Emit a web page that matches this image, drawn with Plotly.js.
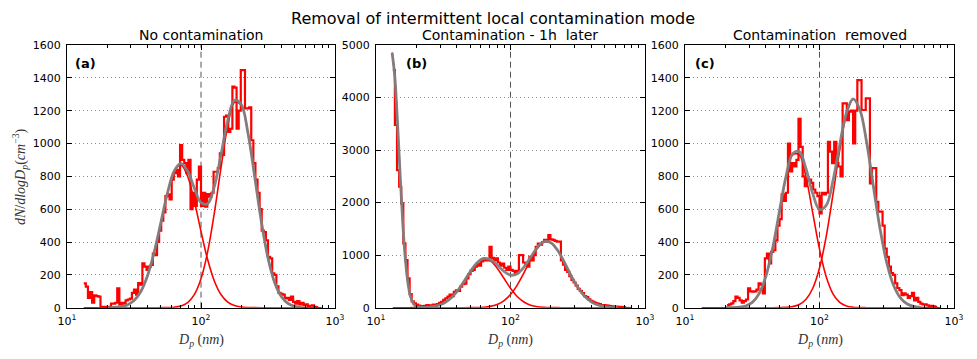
<!DOCTYPE html>
<html><head><meta charset="utf-8">
<script src="https://cdn.plot.ly/plotly-3.0.1.min.js"></script>
<style>html,body{margin:0;padding:0;background:#fff}#chart{width:977px;height:359px}</style>
</head><body><div id="chart"></div>
<script>
const TITLE = "Removal of intermittent local contamination mode";
const PANEL_TITLES = ["No contamination", "Contamination - 1h\u00a0 later", "Contamination\u00a0 removed"];
const PANEL_LABELS = ["(a)", "(b)", "(c)"];
const Y_TITLE = "<i>dN</i>/<i>dlogD</i><sub><i>p</i></sub>(<i>cm</i><sup>\u22123</sup>)";
const X_TITLE = "<i>D</i><sub><i>p</i></sub> (<i>nm</i>)";
const X_TICK_VALUES = [10, 100, 1000];
const X_TICK_TEXT = ["10<sup>1</sup>", "10<sup>2</sup>", "10<sup>3</sup>"];
const X_MINOR_TICKS = [20,30,40,50,60,70,80,90,200,300,400,500,600,700,800,900];
const Y_MAX = [1600, 5000, 1600];
const Y_DTICK = [200, 1000, 200];
const DIVIDER_NM = 100;

// size-bin left edges (nm), last value is the right edge of the last bin
const BIN_EDGES_NM = [13.34,13.82,14.33,14.86,15.40,15.96,16.55,17.15,17.78,18.43,
19.11,19.81,20.54,21.29,22.07,22.88,23.71,24.58,25.48,26.42,
27.38,28.39,29.43,30.51,31.62,32.78,33.98,35.23,36.52,37.86,
39.24,40.68,42.17,43.71,45.32,46.98,48.70,50.48,52.33,54.25,
56.23,58.29,60.43,62.64,64.94,67.32,69.78,72.34,74.99,77.74,
80.58,83.54,86.60,89.77,93.06,96.47,100.0,103.7,107.5,111.4,
115.5,119.7,124.1,128.6,133.4,138.2,143.3,148.6,154.0,159.6,
165.5,171.5,177.8,184.3,191.1,198.1,205.4,212.9,220.7,228.8,
237.1,245.8,254.8,264.2,273.8,283.9,294.3,305.1,316.2,327.8,
339.8,352.3,365.2,378.6,392.4,406.8,421.7,437.1,453.2,469.8,
487.0,504.8,523.3,542.5,562.3,582.9,604.3,626.4,649.4,673.2,
697.8,723.4,749.9,777.4];

const MEASURED_A = [148,128,60,95,30,75,70,68,5,5,
5,5,5,25,25,30,118,20,30,25,
45,50,55,90,110,80,150,140,270,250,
230,250,260,330,320,400,470,530,580,680,
690,660,780,820,840,800,990,900,880,820,
900,600,700,620,780,860,620,700,615,692,
676,700,828,828,850,940,930,1163,1170,1070,
1090,1346,1340,1090,1200,1447,1447,1214,1214,1220,
1020,880,780,700,600,470,460,410,310,300,
209,200,130,90,85,80,57,60,47,67,
35,25,40,20,30,15,20,10,12,15,
5,3,null];

const MEASURED_B = [4524,3477,2620,2303,1986,1224,907,558,260,120,
82,60,40,30,25,35,50,40,45,60,
50,70,90,110,150,180,210,250,220,300,
330,320,400,450,460,560,640,700,720,780,
840,800,880,900,920,900,1160,950,900,940,
860,800,840,760,720,780,720,700,650,700,
1000,1000,860,820,780,970,900,1000,1160,1220,
1200,1250,1290,1260,1383,1300,1290,1270,1256,1260,
900,820,720,680,600,530,480,420,360,320,
280,220,200,160,130,110,90,80,70,50,
50,45,40,30,25,20,20,15,15,10,
8,null,null];

const MEASURED_C = [null,null,null,null,null,null,null,null,null,null,
null,null,16,20,26,40,67,60,45,30,
40,50,118,100,97,100,110,148,140,87,
300,330,270,340,350,410,500,540,690,650,
700,1000,830,880,860,900,1150,980,800,740,
780,780,760,720,700,680,575,700,690,700,
1010,950,880,1010,880,860,800,1244,1244,1143,
1194,1200,1000,1200,1386,1386,1204,1204,1275,1275,
757,850,850,645,585,585,500,360,310,250,
210,200,148,120,107,77,87,80,60,70,
90,45,60,35,25,20,20,15,10,12,
8,5,null];

// fitted-mode curves
const CURVE_NM = [13.34,14.13,15.85,17.78,19.95,22.39,25.12,28.18,31.62,35.48,
39.81,44.67,50.12,56.23,63.10,70.79,79.43,89.13,100,112.2,
125.9,141.3,158.5,177.8,199.5,223.9,251.2,281.8,316.2,354.8,
398.1,446.7,501.2,562.3,631.0,707.9,794.3];

const MODE1_A = [0,0,0,0.1,0.5,1.8,5.8,16.9,43.3,97.4,192.9,336.4,516.3,697.8,829.9,868.9,800.8,649.6,464.0,291.6,161.4,78.6,33.7,12.7,4.2,1.2,0.3,0,0,0,0,0,0,0,0,0,0];
const MODE2_A = [0,0,0,0,0,0,0,0,0,0,0,0,0.2,0.9,3.2,10.7,31.3,79.4,176.2,341.9,579.1,857.2,1108,1251,1235,1064,801.1,526.9,302.7,151.9,66.6,25.5,8.5,2.5,0.6,0.1,0];
const TOTAL_A = [null,null,null,null,0.5,1.8,5.8,16.9,43.3,97.4,192.9,336.4,516.5,698.7,833.1,879.6,832.1,729.0,640.2,633.5,740.5,935.8,1141.7,1263.7,1239.2,1065.2,801.4,526.9,302.7,151.9,66.6,25.5,8.5,2.5,null,null,null];

const MODE0_B_NM = [13.18,13.80,14.45,15.14,15.85,16.60,17.38,18.20,19.05,19.95,20.89,21.88,22.91];
const MODE0_B = [4853,4398,3525,2496,1564,866,424,184,70,24,7,2,0.4];
const MODE1_B = [0,0,0,0.3,1.2,4.2,12.8,34.1,80.1,165.8,302.0,484.0,683.0,848.4,927.6,892.8,756.4,564.1,370.3,214.0,108.8,48.7,19.2,6.7,2.0,0.5,0.1,0,0,0,0,0,0,0,0,0,0];
const MODE2_B = [0,0,0,0,0,0,0,0,0,0,0,0,0.9,3.1,9.3,25.0,60.2,129.4,249.4,429.7,662.9,914.9,1130,1249,1235,1093,865.5,613.4,388.8,220.6,112.0,50.9,20.7,7.5,2.4,0.7,0.2];
const TOTAL_B_NM = [13.18,13.80,14.45,15.14,15.85,16.60,17.38,18.20,19.05,19.95,20.89,21.88,22.91,25.12,28.18,31.62,35.48,39.81,44.67,50.12,56.23,63.10,70.79,79.43,89.13,100,112.2,125.9,141.3,158.5,177.8,199.5,223.9,251.2,281.8,316.2,354.8,398.1,446.7,501.2,562.3,631.0];
const TOTAL_B = [4853,4398,3525,2496,1564,866,424,184,71,25,9,5,5,13,34,80,166,302,484,684,852,937,918,817,694,620,644,772,964,1149,1256,1237,1094,866,613,389,221,112,51,21,7.5,2.4];

const MODE1_C = [0,0,0,0,0.1,0.7,2.9,10.6,32.3,84.5,188.0,356.5,576.2,793.5,931.2,931.2,793.5,576.2,356.5,188.0,84.5,32.3,10.6,2.9,0.7,0.1,0,0,0,0,0,0,0,0,0,0,0];
const MODE2_C = [0,0,0,0,0,0,0,0,0,0,0,0,0.5,1.9,6.5,19.4,51.1,118.4,241.7,434.7,688.1,958.6,1175.6,1269.2,1206,1008.9,742.7,481.5,274.7,137.9,61.0,23.7,8.1,2.5,0.7,0.1,0];
const TOTAL_C = [null,null,null,null,0.1,0.7,2.9,10.6,32.3,84.5,188.0,356.5,576.7,795.4,937.7,950.6,844.6,694.6,598.2,622.7,772.6,990.9,1186.2,1272.1,1206.7,1009.0,742.7,481.5,274.7,137.9,61.0,23.7,8.1,2.5,null,null,null];

// ---- build ----
function stepSeries(values) {
  const xs = [], ys = [];
  for (let i = 0; i < values.length; i++) {
    const v = values[i];
    if (v === null) continue;
    xs.push(BIN_EDGES_NM[i]); ys.push(v);
    const next = values[i + 1];
    if (next === null || next === undefined) {
      xs.push(BIN_EDGES_NM[i + 1]); ys.push(v);
      xs.push(null); ys.push(null);
    }
  }
  return {x: xs, y: ys};
}

const RED = '#ff0000', GREY = '#808080';
const panels = [
  {meas: MEASURED_A, modes: [[CURVE_NM, MODE1_A], [CURVE_NM, MODE2_A]], total: [CURVE_NM, TOTAL_A]},
  {meas: MEASURED_B, modes: [[MODE0_B_NM, MODE0_B], [CURVE_NM, MODE1_B], [CURVE_NM, MODE2_B]], total: [TOTAL_B_NM, TOTAL_B]},
  {meas: MEASURED_C, modes: [[CURVE_NM, MODE1_C], [CURVE_NM, MODE2_C]], total: [CURVE_NM, TOTAL_C]}
];

const W = 977, H = 359;
const XDOM = [[67, 335], [376, 645], [685, 954]];
const YTOP = 45, YBOT = 307.7;
const LABEL_X = [85, 416, 705];

const traces = [];
const layout = {
  width: W, height: H, showlegend: false,
  margin: {l: 0, r: 0, t: 0, b: 0},
  paper_bgcolor: '#fff', plot_bgcolor: '#fff',
  font: {family: 'DejaVu Sans', color: '#000'},
  annotations: [], shapes: []
};

panels.forEach((p, k) => {
  const n = k === 0 ? '' : String(k + 1);
  const xa = 'x' + n, ya = 'y' + n;
  const st = stepSeries(p.meas);
  traces.push({x: st.x, y: st.y, xaxis: xa, yaxis: ya, type: 'scatter', mode: 'lines',
    line: {color: RED, width: 2.2, shape: 'hv'}, hoverinfo: 'skip'});
  p.modes.forEach(m => traces.push({x: m[0], y: m[1], xaxis: xa, yaxis: ya, type: 'scatter', mode: 'lines',
    line: {color: RED, width: 1.6, shape: 'spline', smoothing: 1}, hoverinfo: 'skip'}));
  traces.push({x: p.total[0], y: p.total[1], xaxis: xa, yaxis: ya, type: 'scatter', mode: 'lines',
    line: {color: GREY, width: 2.8, shape: 'spline', smoothing: 1}, opacity: 0.95, hoverinfo: 'skip'});

  const cx = (XDOM[k][0] + XDOM[k][1]) / 2;
  layout['xaxis' + n] = {
    type: 'log', range: [1, 3], domain: [XDOM[k][0] / W, XDOM[k][1] / W], anchor: ya,
    tickmode: 'array', tickvals: X_TICK_VALUES, ticktext: X_TICK_TEXT,
    ticks: 'inside', ticklen: 5, tickwidth: 1, tickcolor: '#000',
    showline: true, linecolor: '#000', linewidth: 1, mirror: 'allticks',
    showgrid: false, zeroline: false, ticklabelstandoff: 3,
    tickfont: {family: 'DejaVu Sans', size: 11, color: '#000'},
    minor: {tickmode: 'array', tickvals: X_MINOR_TICKS, ticks: 'inside', ticklen: 3, tickcolor: '#000', showgrid: false}
  };
  layout['yaxis' + n] = {
    range: [0, Y_MAX[k]], dtick: Y_DTICK[k], tick0: 0, domain: [1 - YBOT / H, 1 - YTOP / H], anchor: xa,
    ticks: 'inside', ticklen: 5, tickwidth: 1, tickcolor: '#000',
    showline: true, linecolor: '#000', linewidth: 1, mirror: 'allticks',
    showgrid: true, gridcolor: '#8c8c8c', griddash: '1px,3px', gridwidth: 1, zeroline: false,
    ticklabelstandoff: 3,
    tickfont: {family: 'DejaVu Sans', size: 11, color: '#000'}
  };
  layout.shapes.push({type: 'line', xref: xa, yref: ya + ' domain', x0: DIVIDER_NM, x1: DIVIDER_NM, y0: 0, y1: 1,
    line: {color: '#555', width: 1, dash: '6px,4px'}, layer: 'below'});
  layout.annotations.push({text: PANEL_TITLES[k], xref: 'paper', yref: 'paper', x: cx / W, y: 1 - 35 / H,
    xanchor: 'center', yanchor: 'middle', showarrow: false, font: {family: 'DejaVu Sans', size: 14, color: '#000'}});
  layout.annotations.push({text: '<b>' + PANEL_LABELS[k] + '</b>', xref: 'paper', yref: 'paper', x: LABEL_X[k] / W, y: 1 - 63 / H,
    xanchor: 'center', yanchor: 'middle', showarrow: false, font: {family: 'DejaVu Sans', size: 13, color: '#000'}});
  layout.annotations.push({text: X_TITLE, xref: 'paper', yref: 'paper', x: cx / W, y: 1 - 340 / H,
    xanchor: 'center', yanchor: 'middle', showarrow: false, font: {family: 'Liberation Serif', size: 14, color: '#333'}});
});

layout.annotations.push({text: TITLE, xref: 'paper', yref: 'paper', x: 493 / W, y: 1 - 18 / H,
  xanchor: 'center', yanchor: 'middle', showarrow: false, font: {family: 'DejaVu Sans', size: 16, color: '#000'}});
layout.annotations.push({text: Y_TITLE, xref: 'paper', yref: 'paper', x: 20 / W, y: 1 - 177 / H, textangle: -90,
  xanchor: 'center', yanchor: 'middle', showarrow: false, font: {family: 'Liberation Serif', size: 14, color: '#333'}});

Plotly.newPlot('chart', traces, layout, {staticPlot: true, displayModeBar: false});
</script>
</body></html>
